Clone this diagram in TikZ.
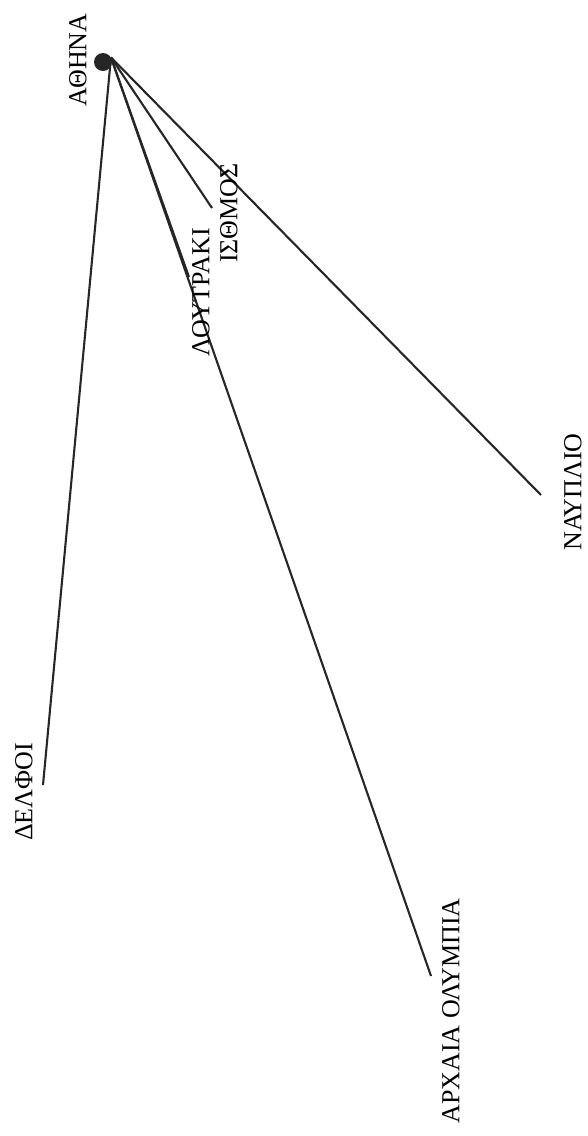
\documentclass[tikz,border=0pt]{standalone}
\usepackage{fontspec}
\setmainfont{Liberation Serif}
\usepackage{tikz}

\begin{document}
\begin{tikzpicture}[
  x=1pt, y=-1pt,
  every node/.style={font=\fontsize{26}{28}\selectfont},
  town/.style={inner sep=0pt, rotate=90, anchor=center},
  hub/.style={circle, fill=black!85, inner sep=0pt, minimum size=18pt},
  road/.style={line width=2.1pt, color=black!85}
]
  \useasboundingbox (0,0) rectangle (588,1136);

  % Start
  \node[hub] (athina) at (103,62) {};
  \node[town] (athinalbl) at (78,60) {ΑΘΗΝΑ};

  % Road ends
  \coordinate (isthmos) at (212,208);
  \coordinate (loutraki) at (189,277);
  \coordinate (nafplio) at (541,495);
  \coordinate (delfoi) at (43,785);
  \coordinate (olympia) at (431,976);

  % Roads
  \foreach \to in {isthmos, loutraki, nafplio, delfoi, olympia} {
    \draw[road] (athina.30) -- (\to);
  }

  % Town names
  \node[town] (isthmoslbl) at (229,213) {ΙΣΘΜΟΣ};
  \node[town] (loutrakilbl) at (201,292) {ΛΟΥΤΡΑΚΙ};
  \node[town] (nafpliolbl) at (573,492) {ΝΑΥΠΛΙΟ};
  \node[town] (delfoilbl) at (24,792) {ΔΕΛΦΟΙ};
  \node[town] (olympialbl) at (451,1011) {ΑΡΧΑΙΑ ΟΛΥΜΠΙΑ};
\end{tikzpicture}
\end{document}
